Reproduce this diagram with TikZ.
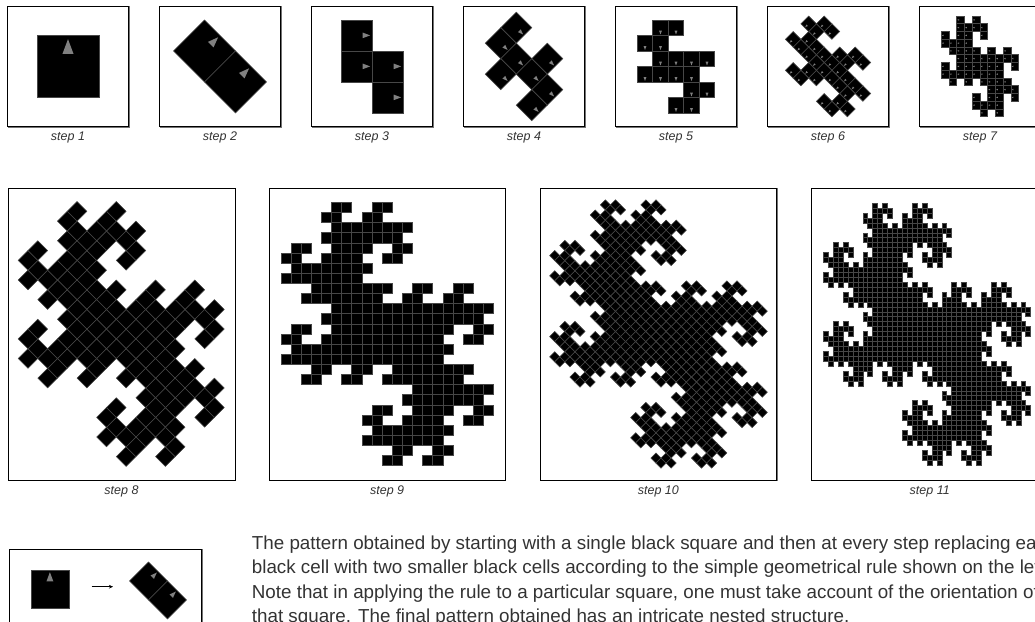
\documentclass[tikz,border=0pt]{standalone}
\usepackage{fontspec}
\setmainfont{Liberation Sans}
\usetikzlibrary{arrows.meta}

\tikzset{
  cellsq/.style={fill=black, draw=black!72, line width=0.55pt},
  cellmark/.style={fill=black!50},
  panel/.style={draw=black, line width=0.7pt},
  panelshade/.style={draw=black!55, line width=1.3pt},
  steplabel/.style={font=\fontsize{12.5}{14}\selectfont\itshape, text=black!80, inner sep=0pt},
  caption/.style={font=\fontsize{18.8}{24}\selectfont, text=black!80, inner sep=0pt, anchor=base west},
  rulearrow/.style={-{Stealth[length=4pt,width=3.6pt]}, line width=0.6pt},
}

% #1 depth, #2 x, #3 y, #4 side, #5 angle, #6 marks on/off
\newcommand\dragonpiece[6]{%
  \ifnum#1=0
    \draw[cellsq,shift={(#2,#3)},rotate=#5] (-#4/2,-#4/2) rectangle (#4/2,#4/2);
    \ifnum#6=1
      \fill[cellmark,shift={(#2,#3)},rotate=#5]
        (0,0.44*#4) -- (-0.09*#4,0.2*#4) -- (0.09*#4,0.2*#4) -- cycle;
    \fi
  \else
    \begingroup
    \pgfmathsetmacro\dgdx{-#4/4*(cos(#5)+sin(#5))}%
    \pgfmathsetmacro\dgdy{#4/4*(cos(#5)-sin(#5))}%
    \pgfmathsetmacro\dgax{#2+(\dgdx)}%
    \pgfmathsetmacro\dgay{#3+(\dgdy)}%
    \pgfmathsetmacro\dgbx{#2-(\dgdx)}%
    \pgfmathsetmacro\dgby{#3-(\dgdy)}%
    \pgfmathsetmacro\dgs{#4/sqrt(2)}%
    \pgfmathsetmacro\dgt{#5-45}%
    \edef\dgnext{%
      \noexpand\dragonpiece{\the\numexpr#1-1\relax}{\dgax}{\dgay}{\dgs}{\dgt}{#6}%
      \noexpand\dragonpiece{\the\numexpr#1-1\relax}{\dgbx}{\dgby}{\dgs}{\dgt}{#6}}%
    \expandafter\endgroup\dgnext
  \fi}

\begin{document}
\begin{tikzpicture}[x=1pt, y=1pt, line join=miter]
  \useasboundingbox (0,0) rectangle (1035,621);
  \clip (0,0) rectangle (1035,621);

  % first row, steps 1 to 7
  \foreach \n in {1,...,7} {
    \pgfmathsetmacro\px{7.5+152*(\n-1)}
    \pgfmathsetmacro\cx{\px+60.5}
    \pgfmathtruncatemacro\dep{\n-1}
    \draw[panelshade] (\px+121.4,614.6) -- (\px+121.4,493.6) -- (\px+0.3,493.6);
    \draw[panel] (\px,494.3) rectangle ++(121,120.7);
    \dragonpiece{\dep}{\cx}{554.6}{62}{0}{1}
    \node[steplabel] (lab\n) at (\cx,483.7) {step \n};
  }

  % second row, steps 8 to 11
  \foreach \n/\px/\pw/\fx/\fs in {8/8/227/121.2/157, 9/269.3/235.7/387.2/162,
      10/540/236.7/658.5/162, 11/811.7/236/927/158} {
    \pgfmathsetmacro\cx{\px+\pw/2}
    \pgfmathtruncatemacro\dep{\n-1}
    \draw[panelshade] (\px+\pw+0.4,433) -- (\px+\pw+0.4,140.3) -- (\px+0.3,140.3);
    \draw[panel] (\px,141) rectangle (\px+\pw,433);
    \dragonpiece{\dep}{\fx}{287}{\fs}{0}{0}
    \node[steplabel] (lab\n) at (\cx,129.3) {step \n};
  }

  % the rule
  \draw[panelshade] (202.1,71.7) -- (202.1,-20);
  \draw[panel] (9.3,-20) rectangle (201.7,71.7);
  \dragonpiece{0}{49.9}{32.1}{38}{0}{1}
  \dragonpiece{1}{158}{30.6}{38}{0}{1}
  \coordinate (rulefrom) at (91.7,34.3);
  \coordinate (ruleto) at (113,34.3);
  \draw[rulearrow] (rulefrom) -- (ruleto);

  \node[caption] (capa) at (251.7,72) {The pattern obtained by starting with a single black square and then at every step replacing each};
  \node[caption] (capb) at (251.7,47.5) {black cell with two smaller black cells according to the simple geometrical rule shown on the left.};
  \node[caption] (capc) at (251.7,23) {Note that in applying the rule to a particular square, one must take account of the orientation of};
  \node[caption] (capd) at (251.7,-1.5) {that square. The final pattern obtained has an intricate nested structure.};
\end{tikzpicture}
\end{document}
